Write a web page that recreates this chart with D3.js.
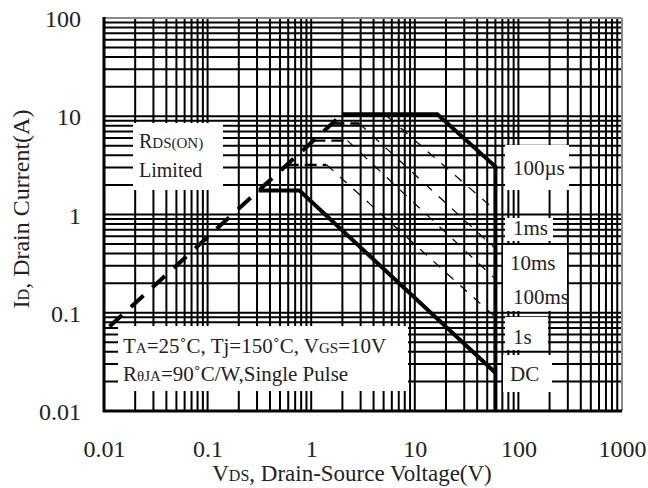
<!DOCTYPE html>
<html>
<head>
<meta charset="utf-8">
<script src="https://cdn.jsdelivr.net/npm/d3@7"></script>
<style>
  html, body { margin: 0; padding: 0; background: #fff; }
  svg text { font-family: "Liberation Serif", "Times New Roman", serif; fill: #222; }
</style>
</head>
<body>
<svg id="chart" width="648" height="488"></svg>
<script>
// Safe operating area: drain current vs drain-source voltage (log-log)
const xTickValues = [0.01, 0.1, 1, 10, 100, 1000];
const yTickValues = [0.01, 0.1, 1, 10, 100];

// R_DS(on) limit (thick dashed)
const rdsLimitV = [0.0113, 2.0];
const rdsLimitI = [0.0724, 10.5];

// 100 µs envelope, including the BVdss wall at 60 V
const pulse100usV = [2.0, 16.5, 60, 60];
const pulse100usI = [10.5, 10.5, 3.07, 0.01];

// DC curve
const dcV = [0.31, 0.77, 60];
const dcI = [1.75, 1.75, 0.0245];

// single-pulse curves (thin dashed)
const pulse1msV = [5.4, 60];
const pulse1msI = [10.0, 1.1];
const pulse10msV = [1.6, 2.9, 60];
const pulse10msI = [8.45, 8.45, 0.45];
const pulse100msV = [1.05, 2.24, 60];
const pulse100msI = [5.65, 5.65, 0.22];
const pulse1sV = [0.58, 1.41, 60];
const pulse1sI = [3.2, 3.2, 0.09];

const curveLabels = ["100\u00b5s", "1ms", "10ms", "100ms", "1s", "DC"];

const svg = d3.select("#chart");
const plotL = 104, plotR = 622, plotT = 18, plotB = 411;

const x = d3.scaleLog().domain([0.01, 1000]).range([plotL, plotR]);
const y = d3.scaleLog().domain([0.01, 100]).range([plotB, plotT]);

// full log grid: a line at every 1..9 multiple of each decade
const grid = svg.append("g");
grid.selectAll("line.v").data(x.ticks()).join("line")
  .attr("x1", d => x(d)).attr("x2", d => x(d))
  .attr("y1", plotT).attr("y2", plotB)
  .attr("stroke", "#000").attr("stroke-width", 2);
grid.selectAll("line.h").data(y.ticks()).join("line")
  .attr("x1", plotL).attr("x2", plotR)
  .attr("y1", d => y(d)).attr("y2", d => y(d))
  .attr("stroke", "#000").attr("stroke-width", 2);

// frame: heavy left/bottom, grey top/right
svg.append("line").attr("x1", plotL).attr("x2", plotR).attr("y1", plotT).attr("y2", plotT)
  .attr("stroke", "#8a8a8a").attr("stroke-width", 2);
svg.append("line").attr("x1", plotR).attr("x2", plotR).attr("y1", plotT).attr("y2", plotB)
  .attr("stroke", "#8a8a8a").attr("stroke-width", 2);
svg.append("line").attr("x1", plotL).attr("x2", plotL).attr("y1", plotT - 1).attr("y2", plotB + 1)
  .attr("stroke", "#000").attr("stroke-width", 3);
svg.append("line").attr("x1", plotL - 1).attr("x2", plotR).attr("y1", plotB).attr("y2", plotB)
  .attr("stroke", "#000").attr("stroke-width", 3);

// white boxes behind the annotations
const boxes = [
  [133, 123, 223, 190],
  [118, 326, 408, 391],
  [505, 145, 569, 190],
  [505, 218, 553, 241],
  [503, 245, 567, 311],
  [505, 317, 548, 350],
  [503, 355, 552, 392]
];
svg.append("g").selectAll("rect").data(boxes).join("rect")
  .attr("x", d => d[0]).attr("y", d => d[1])
  .attr("width", d => d[2] - d[0]).attr("height", d => d[3] - d[1])
  .attr("fill", "#fff");

const line = d3.line().x(d => x(d[0])).y(d => y(d[1]));
const pts = (vs, is) => vs.map((v, i) => [v, is[i]]);

const curves = svg.append("g").attr("fill", "none").attr("stroke", "#000");

// R_DS(on) limit
curves.append("path").attr("d", line(pts(rdsLimitV, rdsLimitI)))
  .attr("stroke-width", 4).attr("stroke-dasharray", "17,12");

// 100 µs envelope and DC
curves.append("path").attr("d", line(pts(pulse100usV, pulse100usI)))
  .attr("stroke-width", 4).attr("stroke-linejoin", "miter");
curves.append("path").attr("d", line(pts(dcV, dcI)))
  .attr("stroke-width", 4);

// thin dashed pulse curves: flat part drawn heavier than the slope
[[pulse1msV, pulse1msI], [pulse10msV, pulse10msI], [pulse100msV, pulse100msI], [pulse1sV, pulse1sI]]
  .forEach(([vs, is]) => {
    const p = pts(vs, is);
    if (p.length > 2) {
      curves.append("path").attr("d", line(p.slice(0, 2)))
        .attr("stroke-width", 2.4).attr("stroke-dasharray", "12,6");
      curves.append("path").attr("d", line(p.slice(1)))
        .attr("stroke-width", 1.2).attr("stroke-dasharray", "9,9");
    } else {
      curves.append("path").attr("d", line(p))
        .attr("stroke-width", 1.2).attr("stroke-dasharray", "9,9");
    }
  });

// axes (labels only; the grid already draws the lines)
const fmt = d => String(d);
const yAxis = svg.append("g").attr("transform", `translate(${plotL},0)`)
  .call(d3.axisLeft(y).tickValues(yTickValues).tickSize(0).tickPadding(23).tickFormat(fmt));
yAxis.select(".domain").remove();
yAxis.selectAll("text").attr("font-size", 24).attr("font-family", null).attr("dy", "0.36em");

const xAxis = svg.append("g").attr("transform", `translate(0,${plotB})`)
  .call(d3.axisBottom(x).tickValues(xTickValues).tickSize(0).tickFormat(fmt));
xAxis.select(".domain").remove();
xAxis.selectAll("text").attr("font-size", 24).attr("font-family", null)
  .attr("y", 46).attr("dy", null);

// axis titles
const xt = svg.append("text").attr("x", 352).attr("y", 481)
  .attr("text-anchor", "middle").attr("font-size", 23);
xt.append("tspan").text("V");
xt.append("tspan").attr("font-size", 16).text("DS");
xt.append("tspan").text(", Drain-Source Voltage(V)");

const yt = svg.append("text").attr("transform", "translate(29,209) rotate(-90)")
  .attr("text-anchor", "middle").attr("font-size", 24);
yt.append("tspan").text("I");
yt.append("tspan").attr("font-size", 16).text("D");
yt.append("tspan").text(", Drain Current(A)");

// R_DS(on) note
const rds = svg.append("text").attr("x", 139).attr("y", 148).attr("font-size", 20);
rds.append("tspan").text("R");
rds.append("tspan").attr("font-size", 15).text("DS(ON)");
svg.append("text").attr("x", 139).attr("y", 177).attr("font-size", 20).text("Limited");

// conditions note
const c1 = svg.append("text").attr("x", 123).attr("y", 353).attr("font-size", 21);
c1.append("tspan").text("T");
c1.append("tspan").attr("font-size", 15).text("A");
c1.append("tspan").text("=25\u02daC, Tj=150\u02daC, V");
c1.append("tspan").attr("font-size", 15).text("GS");
c1.append("tspan").text("=10V");
const c2 = svg.append("text").attr("x", 123).attr("y", 381).attr("font-size", 21);
c2.append("tspan").text("R");
c2.append("tspan").attr("font-size", 15).text("\u03b8JA");
c2.append("tspan").text("=90\u02daC/W,Single Pulse");

// curve labels
const labelPos = [[513, 175], [513, 235], [510, 270], [513, 304], [513, 344], [510, 381]];
svg.append("g").selectAll("text").data(curveLabels).join("text")
  .attr("x", (d, i) => labelPos[i][0]).attr("y", (d, i) => labelPos[i][1])
  .attr("font-size", 21).text(d => d);
</script>
</body>
</html>
